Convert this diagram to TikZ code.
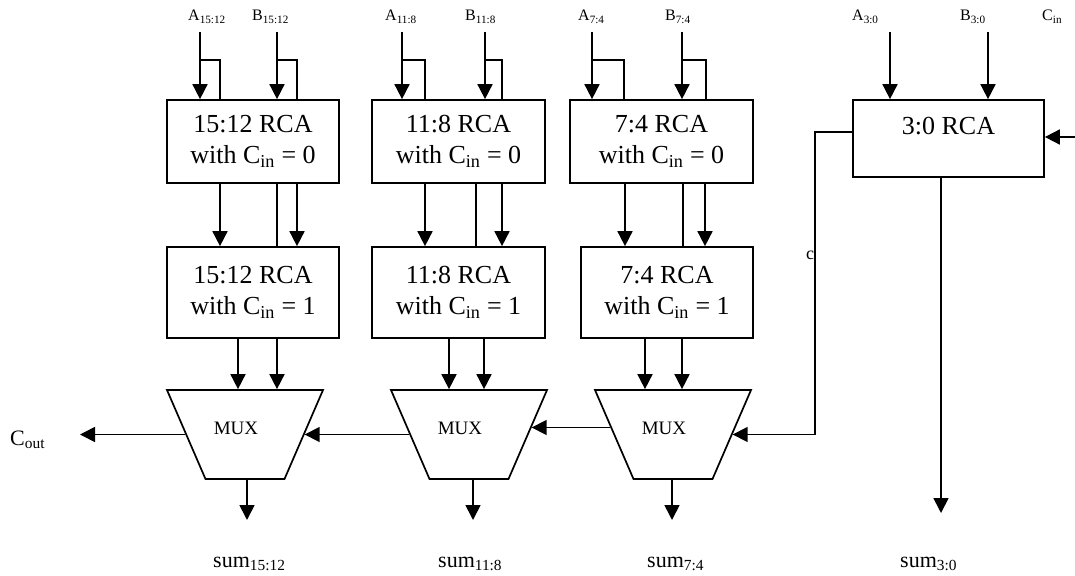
\documentclass[tikz,border=0pt]{standalone}
\usepackage{fontspec}
\setmainfont{Liberation Serif}
\usetikzlibrary{arrows.meta,shapes.geometric}
\newcommand\rcafont{\fontsize{26}{31}\selectfont}
\newcommand\pinfont{\fontsize{16}{18}\selectfont}
\newcommand\sumfont{\fontsize{22}{24}\selectfont}
\newcommand\muxfont{\fontsize{19}{21}\selectfont}
\newcommand\muxtext{\makebox[79pt]{\rule[-44.5pt]{0pt}{89pt}MUX\hspace{18pt}}}
\tikzstyle{wire}=[line width=1.7pt]
\tikzstyle{sig}=[wire, -{Triangle[length=15pt,width=15pt]}]
\tikzstyle{rca}=[draw, line width=1.7pt, align=center, font=\rcafont, inner sep=0pt]
\tikzstyle{mux}=[draw, line width=1.7pt, trapezium, shape border rotate=180, trapezium left angle=66.6, trapezium right angle=66.6, inner sep=0pt, font=\muxfont]
\tikzstyle{pin}=[font=\pinfont, inner sep=0pt, anchor=base west]
\tikzstyle{outlbl}=[font=\sumfont, inner sep=0pt, anchor=base west]

\begin{document}
\begin{tikzpicture}[x=1pt,y=-1pt]
\useasboundingbox (0,0) rectangle (1075,575);
% adders
\node [rca, minimum width=172pt, minimum height=83pt] (r1a) at (253,141.5) {15:12 RCA\\with C\textsubscript{in} = 0};
\node [rca, minimum width=172pt, minimum height=91pt] (r1b) at (253,292.5) {15:12 RCA\\with C\textsubscript{in} = 1};
\node [rca, minimum width=173pt, minimum height=83pt] (r2a) at (458.5,141.5) {11:8 RCA\\with C\textsubscript{in} = 0};
\node [rca, minimum width=173pt, minimum height=91pt] (r2b) at (458.5,292.5) {11:8 RCA\\with C\textsubscript{in} = 1};
\node [rca, minimum width=183pt, minimum height=83pt] (r3a) at (661.5,141.5) {7:4 RCA\\with C\textsubscript{in} = 0};
\node [rca, minimum width=172pt, minimum height=91pt] (r3b) at (667,292.5) {7:4 RCA\\with C\textsubscript{in} = 1};
\node [rca, minimum width=191pt, minimum height=77pt] (r4) at (948.5,138.5) {\smash{\raisebox{3.5pt}{3:0 RCA}}};
% muxes
\node [mux] (m1) at (245,434.5) {\muxtext};
\node [mux] (m2) at (469,434.5) {\muxtext};
\node [mux] (m3) at (673,434.5) {\muxtext};
% inputs
\node [pin] (la1) at (188,21) {A\textsubscript{15:12}};
\node [pin] (lb1) at (252,21) {B\textsubscript{15:12}};
\node [pin] (la2) at (385,21) {A\textsubscript{11:8}};
\node [pin] (lb2) at (465,21) {B\textsubscript{11:8}};
\node [pin] (la3) at (578,21) {A\textsubscript{7:4}};
\node [pin] (lb3) at (665,21) {B\textsubscript{7:4}};
\node [pin] (la4) at (852,21) {A\textsubscript{3:0}};
\node [pin] (lb4) at (960,21) {B\textsubscript{3:0}};
\node [pin] (lcin) at (1042,21) {C\textsubscript{in}};
\node [font=\fontsize{18}{20}\selectfont, inner sep=0pt] (cstray) at (810,255) {c};
% outputs
\node [outlbl] (lcout) at (10,445) {C\textsubscript{out}};
\node [outlbl] (s1) at (213,567) {sum\textsubscript{15:12}};
\node [outlbl] (s2) at (438,567) {sum\textsubscript{11:8}};
\node [outlbl] (s3) at (647,567) {sum\textsubscript{7:4}};
\node [outlbl] (s4) at (900,567) {sum\textsubscript{3:0}};
% 15:12
\draw [sig] (200,32) -- (200,0 |- r1a.north);
\draw [wire] (200,60) -| (220,0 |- r1a.north);
\draw [sig] (277,32) -- (277,0 |- r1a.north);
\draw [wire] (277,60) -| (297,0 |- r1a.north);
\draw [sig] (220,0 |- r1a.south) -- (220,0 |- r1b.north);
\draw [wire] (277,0 |- r1a.south) -- (277,0 |- r1b.north);
\draw [sig] (297,0 |- r1a.south) -- (297,0 |- r1b.north);
\draw [sig] (238,0 |- r1b.south) -- (238,0 |- m1.north);
\draw [sig] (277,0 |- r1b.south) -- (277,0 |- m1.north);
\draw [sig] (247,0 |- m1.south) -- (247,520);
% 11:8
\draw [sig] (402,32) -- (402,0 |- r2a.north);
\draw [wire] (402,60) -| (425,0 |- r2a.north);
\draw [sig] (485,32) -- (485,0 |- r2a.north);
\draw [wire] (485,60) -| (502,0 |- r2a.north);
\draw [sig] (425,0 |- r2a.south) -- (425,0 |- r2b.north);
\draw [wire] (476,0 |- r2a.south) -- (476,0 |- r2b.north);
\draw [sig] (502,0 |- r2a.south) -- (502,0 |- r2b.north);
\draw [sig] (449,0 |- r2b.south) -- (449,0 |- m2.north);
\draw [sig] (484,0 |- r2b.south) -- (484,0 |- m2.north);
\draw [sig] (473,0 |- m2.south) -- (473,520);
% 7:4
\draw [sig] (592,32) -- (592,0 |- r3a.north);
\draw [wire] (592,60) -| (624,0 |- r3a.north);
\draw [sig] (682,32) -- (682,0 |- r3a.north);
\draw [wire] (682,60) -| (706,0 |- r3a.north);
\draw [sig] (625,0 |- r3a.south) -- (625,0 |- r3b.north);
\draw [wire] (683,0 |- r3a.south) -- (683,0 |- r3b.north);
\draw [sig] (705,0 |- r3a.south) -- (705,0 |- r3b.north);
\draw [sig] (645,0 |- r3b.south) -- (645,0 |- m3.north);
\draw [sig] (682,0 |- r3b.south) -- (682,0 |- m3.north);
\draw [sig] (672,0 |- m3.south) -- (672,520);
% 3:0
\draw [sig] (890,32) -- (890,0 |- r4.north);
\draw [sig] (988,32) -- (988,0 |- r4.north);
\draw [sig] (1075,137) -- (r4.east |- 0,137);
\draw [sig] (941,0 |- r4.south) -- (941,513);
% carry chain
\draw [sig] (r4.west |- 0,132) -| (815,0 |- m3.east) -- (m3.east);
\draw [sig] ([xshift=-3pt,yshift=7pt]m3.west) -- ([xshift=3pt,yshift=7pt]m2.east);
\draw [sig] (m2.west) -- (m1.east);
\draw [sig] (m1.west) -- (80,0 |- m1.west);
\end{tikzpicture}
\end{document}
